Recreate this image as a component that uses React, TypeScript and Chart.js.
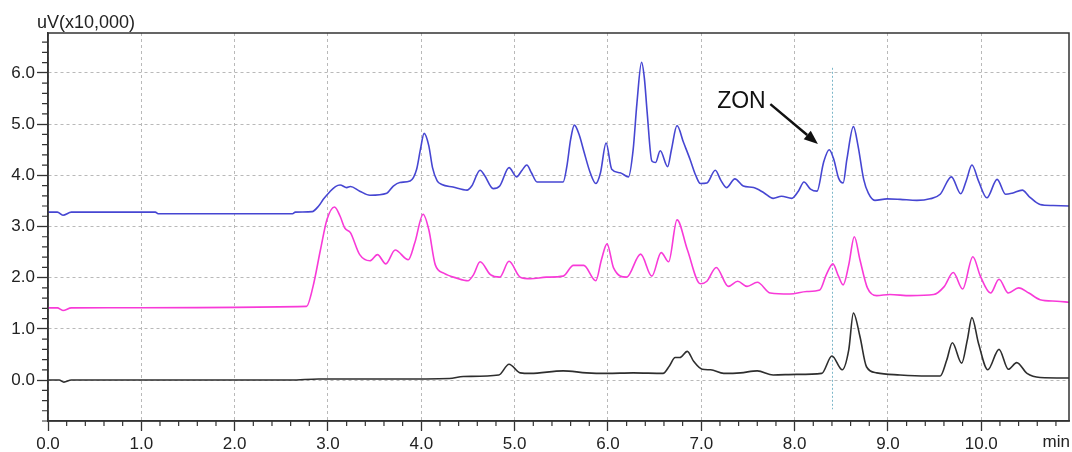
import { useEffect, useRef } from "react";
import { Chart, registerables } from "chart.js";

Chart.register(...registerables);

// ---- axes ----
const X_MIN = 0;
const X_MAX = 10.94;
const Y_MIN = -0.8;
const Y_MAX = 6.78;
const X_MAJOR_TICKS = [0, 1, 2, 3, 4, 5, 6, 7, 8, 9, 10];
const Y_MAJOR_TICKS = [0, 1, 2, 3, 4, 5, 6];
const MINOR_STEP = 0.2;
const Y_AXIS_TITLE = "uV(x10,000)";
const X_AXIS_UNIT = "min";

// ---- annotation ----
const MARKER_LABEL = "ZON";
const MARKER_LABEL_POS: [number, number] = [7.17, 5.43];
const MARKER_ARROW_FROM: [number, number] = [7.74, 5.39];
const MARKER_ARROW_TO: [number, number] = [8.25, 4.61];
const MARKER_LINE_TIME = 8.4;
const MARKER_LINE_RANGE: [number, number] = [-0.57, 6.1];

// ---- series: [time (min), signal (uV x10,000)] ----
const BLUE_TRACE: [number, number][] = [
  [0.0, 3.28], [0.1, 3.28], [0.16, 3.22], [0.25, 3.28], [1.15, 3.28], [1.18, 3.25],
  [2.62, 3.25], [2.65, 3.28], [2.83, 3.29], [2.9, 3.4], [2.95, 3.53], [3.02, 3.68],
  [3.08, 3.78], [3.13, 3.81], [3.2, 3.76], [3.24, 3.78], [3.34, 3.69], [3.45, 3.61],
  [3.63, 3.65], [3.7, 3.79], [3.77, 3.86], [3.88, 3.89], [3.95, 4.12], [3.99, 4.5],
  [4.03, 4.82], [4.08, 4.58], [4.12, 4.15], [4.17, 3.89], [4.22, 3.82], [4.34, 3.77],
  [4.49, 3.71], [4.54, 3.79], [4.63, 4.1], [4.68, 3.99], [4.77, 3.74], [4.84, 3.79],
  [4.94, 4.15], [5.02, 3.97], [5.08, 4.1], [5.13, 4.2], [5.18, 4.05], [5.24, 3.87],
  [5.38, 3.87], [5.52, 3.87], [5.56, 4.18], [5.6, 4.7], [5.64, 4.98], [5.69, 4.8],
  [5.74, 4.48], [5.81, 4.05], [5.87, 3.84], [5.92, 4.05], [5.98, 4.63], [6.04, 4.12],
  [6.13, 4.05], [6.22, 3.97], [6.27, 4.5], [6.31, 5.4], [6.36, 6.21], [6.39, 5.9],
  [6.42, 5.23], [6.47, 4.28], [6.51, 4.25], [6.56, 4.48], [6.64, 4.17], [6.68, 4.5],
  [6.74, 4.97], [6.81, 4.64], [6.88, 4.31], [6.94, 4.0], [6.99, 3.84], [7.06, 3.85],
  [7.15, 4.1], [7.21, 3.9], [7.27, 3.76], [7.36, 3.93], [7.45, 3.79], [7.56, 3.76],
  [7.67, 3.66], [7.77, 3.55], [7.86, 3.59], [7.97, 3.55], [8.04, 3.69], [8.1, 3.87],
  [8.17, 3.73], [8.24, 3.69], [8.31, 4.25], [8.37, 4.5], [8.42, 4.31], [8.47, 3.95],
  [8.52, 3.85], [8.56, 4.31], [8.63, 4.95], [8.68, 4.57], [8.74, 3.92], [8.79, 3.65],
  [8.86, 3.51], [8.99, 3.54], [9.13, 3.53], [9.31, 3.51], [9.45, 3.54], [9.56, 3.63],
  [9.68, 3.97], [9.78, 3.64], [9.84, 3.9], [9.9, 4.2], [9.97, 3.89], [10.06, 3.56],
  [10.17, 3.92], [10.26, 3.63], [10.33, 3.65], [10.44, 3.71], [10.51, 3.59],
  [10.63, 3.43], [10.77, 3.41], [10.94, 3.4],
];

const MAGENTA_TRACE: [number, number][] = [
  [0.0, 1.41], [0.1, 1.41], [0.16, 1.36], [0.25, 1.41], [2.77, 1.44], [2.84, 1.83],
  [2.92, 2.55], [2.99, 3.14], [3.07, 3.38], [3.13, 3.2], [3.18, 2.97], [3.24, 2.88],
  [3.34, 2.45], [3.45, 2.33], [3.53, 2.45], [3.62, 2.27], [3.72, 2.54], [3.86, 2.35],
  [3.93, 2.68], [4.02, 3.24], [4.08, 2.94], [4.15, 2.25], [4.24, 2.09], [4.38, 1.99],
  [4.5, 1.94], [4.56, 2.06], [4.63, 2.31], [4.74, 2.06], [4.84, 2.01], [4.94, 2.32],
  [5.06, 2.01], [5.17, 1.98], [5.34, 2.01], [5.52, 2.03], [5.63, 2.24], [5.74, 2.24],
  [5.87, 1.94], [5.93, 2.35], [5.99, 2.66], [6.06, 2.19], [6.2, 2.01], [6.35, 2.46],
  [6.47, 2.03], [6.57, 2.49], [6.65, 2.31], [6.74, 3.13], [6.85, 2.55], [6.99, 1.88],
  [7.06, 1.93], [7.16, 2.2], [7.29, 1.83], [7.39, 1.93], [7.49, 1.83], [7.6, 1.91],
  [7.74, 1.7], [7.95, 1.68], [8.13, 1.73], [8.27, 1.76], [8.34, 2.06], [8.41, 2.27],
  [8.47, 2.03], [8.52, 1.86], [8.58, 2.25], [8.64, 2.8], [8.7, 2.35], [8.78, 1.8],
  [8.88, 1.65], [9.02, 1.67], [9.24, 1.65], [9.49, 1.67], [9.6, 1.82], [9.7, 2.1],
  [9.8, 1.78], [9.91, 2.41], [9.99, 2.03], [10.1, 1.7], [10.19, 1.97], [10.29, 1.7],
  [10.4, 1.8], [10.51, 1.7], [10.63, 1.57], [10.81, 1.54], [10.94, 1.52],
];

const BLACK_TRACE: [number, number][] = [
  [0.0, 0.0], [0.12, 0.0], [0.17, -0.04], [0.25, 0.0], [2.6, 0.0], [2.9, 0.02],
  [3.7, 0.02], [4.3, 0.03], [4.45, 0.07], [4.83, 0.1], [4.94, 0.31], [5.06, 0.14],
  [5.17, 0.13], [5.52, 0.18], [5.77, 0.14], [5.99, 0.13], [6.27, 0.14], [6.59, 0.13],
  [6.66, 0.28], [6.72, 0.44], [6.77, 0.44], [6.85, 0.56], [6.92, 0.36], [7.01, 0.21],
  [7.1, 0.2], [7.24, 0.13], [7.42, 0.14], [7.6, 0.18], [7.77, 0.1], [8.02, 0.11],
  [8.29, 0.13], [8.4, 0.47], [8.51, 0.2], [8.58, 0.59], [8.63, 1.31], [8.7, 0.85],
  [8.77, 0.26], [8.88, 0.14], [9.13, 0.1], [9.42, 0.08], [9.56, 0.08], [9.63, 0.39],
  [9.69, 0.73], [9.79, 0.33], [9.85, 0.78], [9.9, 1.22], [9.97, 0.72], [10.07, 0.2],
  [10.19, 0.6], [10.29, 0.21], [10.38, 0.34], [10.49, 0.13], [10.63, 0.05],
  [10.94, 0.04],
];

const FONT = "'Liberation Sans', Arial, Helvetica, sans-serif";
const AXIS_COLOR = "#333333";
const TEXT_COLOR = "#222222";

const toPoints = (arr: [number, number][]) => arr.map(([x, y]) => ({ x, y }));

const decorPlugin = {
  id: "decor",
  beforeDatasetsDraw(chart: any) {
    const { ctx, scales } = chart;
    const x = scales.x;
    const y = scales.y;
    ctx.save();
    ctx.strokeStyle = "rgba(110,175,195,0.9)";
    ctx.lineWidth = 1;
    ctx.setLineDash([2, 2]);
    const px = Math.round(x.getPixelForValue(MARKER_LINE_TIME)) + 0.5;
    ctx.beginPath();
    ctx.moveTo(px, y.getPixelForValue(MARKER_LINE_RANGE[1]));
    ctx.lineTo(px, y.getPixelForValue(MARKER_LINE_RANGE[0]));
    ctx.stroke();
    ctx.restore();
  },
  afterDraw(chart: any) {
    const { ctx, chartArea, scales } = chart;
    const x = scales.x;
    const y = scales.y;
    const { left, right, top, bottom } = chartArea;
    ctx.save();
    // frame
    ctx.strokeStyle = AXIS_COLOR;
    ctx.lineWidth = 1.5;
    ctx.setLineDash([]);
    ctx.beginPath();
    ctx.moveTo(left, bottom);
    ctx.lineTo(left, top);
    ctx.lineTo(right, top);
    ctx.lineTo(right, bottom);
    ctx.lineTo(left, bottom);
    ctx.stroke();

    // minor ticks
    ctx.lineWidth = 1.2;
    ctx.beginPath();
    for (let i = 0; ; i++) {
      const v = Math.round((X_MIN + i * MINOR_STEP) * 10) / 10;
      if (v > X_MAX) break;
      if (Math.abs(v - Math.round(v)) < 1e-6) continue;
      const px = x.getPixelForValue(v);
      ctx.moveTo(px, bottom);
      ctx.lineTo(px, bottom + 5);
    }
    for (let i = 0; ; i++) {
      const v = Math.round((Y_MIN + i * MINOR_STEP) * 10) / 10;
      if (v > Y_MAX) break;
      if (Math.abs(v - Math.round(v)) < 1e-6) continue;
      const py = y.getPixelForValue(v);
      ctx.moveTo(left, py);
      ctx.lineTo(left - 6, py);
    }
    ctx.stroke();

    // axis titles
    ctx.fillStyle = TEXT_COLOR;
    ctx.font = `18px ${FONT}`;
    ctx.textAlign = "left";
    ctx.textBaseline = "alphabetic";
    ctx.fillText(Y_AXIS_TITLE, left - 11, top - 5);

    ctx.font = `17px ${FONT}`;
    ctx.textAlign = "right";
    ctx.textBaseline = "top";
    ctx.fillText(X_AXIS_UNIT, chart.width - 2, bottom + 13);

    // ZON label
    ctx.font = `23px ${FONT}`;
    ctx.textAlign = "left";
    ctx.textBaseline = "middle";
    ctx.fillStyle = "#111111";
    ctx.fillText(MARKER_LABEL, x.getPixelForValue(MARKER_LABEL_POS[0]), y.getPixelForValue(MARKER_LABEL_POS[1]));

    // arrow
    const x1 = x.getPixelForValue(MARKER_ARROW_FROM[0]);
    const y1 = y.getPixelForValue(MARKER_ARROW_FROM[1]);
    const x2 = x.getPixelForValue(MARKER_ARROW_TO[0]);
    const y2 = y.getPixelForValue(MARKER_ARROW_TO[1]);
    const ang = Math.atan2(y2 - y1, x2 - x1);
    const headLen = 14;
    const headHalf = 5.5;
    const bx = x2 - headLen * Math.cos(ang);
    const by = y2 - headLen * Math.sin(ang);
    ctx.strokeStyle = "#111111";
    ctx.lineWidth = 2.5;
    ctx.beginPath();
    ctx.moveTo(x1, y1);
    ctx.lineTo(bx, by);
    ctx.stroke();
    ctx.fillStyle = "#111111";
    ctx.beginPath();
    ctx.moveTo(x2, y2);
    ctx.lineTo(bx + headHalf * Math.sin(ang), by - headHalf * Math.cos(ang));
    ctx.lineTo(bx - headHalf * Math.sin(ang), by + headHalf * Math.cos(ang));
    ctx.closePath();
    ctx.fill();
    ctx.restore();
  },
};

export default function App() {
  const canvasRef = useRef<HTMLCanvasElement | null>(null);

  useEffect(() => {
    if (!canvasRef.current) return;
    const lineDs = (label: string, data: [number, number][], color: string) => ({
      label,
      data: toPoints(data),
      borderColor: color,
      backgroundColor: color,
      borderWidth: 1.6,
      pointRadius: 0,
      pointHoverRadius: 0,
      fill: false,
      cubicInterpolationMode: "monotone" as const,
    });

    const chart = new Chart(canvasRef.current, {
      type: "line",
      data: {
        datasets: [
          lineDs("blue", BLUE_TRACE, "#4646d2"),
          lineDs("magenta", MAGENTA_TRACE, "#f83ad8"),
          lineDs("black", BLACK_TRACE, "#2e2e2e"),
        ],
      },
      options: {
        responsive: false,
        animation: false,
        events: [],
        layout: { padding: { top: 33, right: 3, left: 0, bottom: 0 } },
        plugins: {
          legend: { display: false },
          tooltip: { enabled: false },
          title: { display: false },
        },
        scales: {
          x: {
            type: "linear",
            min: X_MIN,
            max: X_MAX,
            afterBuildTicks: (scale: any) => {
              scale.ticks = X_MAJOR_TICKS.map((v) => ({ value: v }));
            },
            afterFit: (scale: any) => {
              scale.height = 31;
            },
            ticks: {
              autoSkip: false,
              maxRotation: 0,
              padding: 3,
              color: TEXT_COLOR,
              font: { family: FONT, size: 17 },
              callback: (v: any) => Number(v).toFixed(1),
            },
            grid: {
              color: "#b9b9b9",
              lineWidth: 1,
              drawTicks: true,
              tickLength: 10,
              tickColor: AXIS_COLOR,
              tickWidth: 1.3,
            },
            border: { display: true, color: AXIS_COLOR, width: 1.5, dash: [3, 3] },
          },
          y: {
            type: "linear",
            min: Y_MIN,
            max: Y_MAX,
            afterBuildTicks: (scale: any) => {
              scale.ticks = Y_MAJOR_TICKS.map((v) => ({ value: v }));
            },
            afterFit: (scale: any) => {
              scale.width = 48;
            },
            ticks: {
              autoSkip: false,
              padding: 2,
              color: TEXT_COLOR,
              font: { family: FONT, size: 17 },
              callback: (v: any) => Number(v).toFixed(1),
            },
            grid: {
              color: "#b9b9b9",
              lineWidth: 1,
              drawTicks: true,
              tickLength: 11,
              tickColor: AXIS_COLOR,
              tickWidth: 1.3,
            },
            border: { display: true, color: AXIS_COLOR, width: 1.5, dash: [3, 3] },
          },
        },
      },
      plugins: [decorPlugin],
    });

    return () => chart.destroy();
  }, []);

  return (
    <div style={{ position: "absolute", left: 0, top: 0, width: 1072, height: 452, background: "#fff" }}>
      <canvas ref={canvasRef} width={1072} height={452} style={{ display: "block" }} />
    </div>
  );
}
